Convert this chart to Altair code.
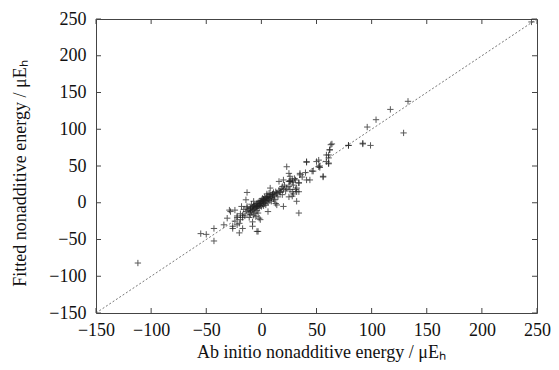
import altair as alt
import pandas as pd

# Ab initio (x) vs fitted (y) nonadditive energies
ab_initio = [
    -112, 133, 117, 104, 96, 129, 92, 99, 79, 64, 62, 59, 61, 61, 52, 53, 245,
    -55, -50, -43, -43, -34, -28, -31, -26, -26, -22, -20, -17, -19, -13, -14,
    -22, -17, -13, -10, -8, -3, -7, -4, -1, 2, -5, -2, -29, -24,
    23, 41, 47, 56, 40, 35, 26, 25, 31, 34, 32, 28, 25, 32, 34, 17, 16, 19, 14,
    13, 20, 8, 10, 5, 2, -1, -4, -7, -10, -1, -8, -4, 6, 14, 20, 25,
    63, 62, 61, 59, 61, 79, 92, 41, 50, 52, 53, 56, 46, 44, 41, 35, 37, 28, 26,
    29, 34, 26, 31, 34, 28,
    -12, -11, -10, -9, -8, -8, -7, -7, -6, -6, -5, -5, -4, -4, -3, -3, -2, -2,
    -1, -1, 0, 0, 1, 1, 2, 2, 3, 3, 4, 4, 5, 5, 6, 6, 7, 7, 8, 8, 9, 10, 10,
    11, 12, 13, 14, 16, 17, 18, 20, 21, 22, 23, 25, -14, -15, -16, -17, -13,
    -10, -9, -6, -4, -2, 0, 2, 3, 5, 7, 9, 11, -19, -22, -11, -7, 1, 4, 6, 12,
    15, 19, -3, -18, -24, -20, 28, 30, 26, 32, 29,
]
fitted = [
    -82, 138, 127, 113, 103, 95, 81, 78, 78, 80, 72, 65, 61, 53, 58, 50, 246,
    -42, -43, -35, -52, -30, -12, -21, -35, -32, -30, -41, -35, -23, 14, 4,
    -20, -17, -7, -10, -26, -39, 2, -5, -1, 4, -19, -21, -10, -10,
    49, 56, 43, 36, 41, 38, 36, 29, 31, 27, 15, 15, 8, 2, -14, 15, 29, 22, 13,
    -1, -5, 20, 11, 8, 4, 2, -1, -5, -7, -23, -32, -39, -12, -3, 31, 40,
    79, 72, 65, 56, 54, 78, 80, 55, 56, 49, 48, 35, 43, 31, 31, 40, 35, 31, 29,
    24, 27, 18, 18, 15, 9,
    -10, -14, -8, -12, -6, -10, -4, -9, -7, -3, -5, -8, -2, -6, -4, 0, -3, 2,
    -1, -4, 0, 3, -2, 2, 1, 5, 3, -1, 6, 2, 4, 7, 5, 9, 6, 3, 8, 11, 7, 12, 9,
    14, 10, 15, 12, 17, 14, 19, 18, 24, 16, 20, 22, -12, -18, -9, -20, -5,
    -16, -2, -14, -11, -7, -5, -4, 8, 12, 13, 2, 5, -15, -18, -20, -17, 6, -3,
    0, 4, 8, 11, -14, -5, -25, -28, 28, 33, 30, 20, 12,
]

diag_x = [-150, 250]
diag_y = [-150, 250]
tick_values = [-150, -100, -50, 0, 50, 100, 150, 200, 250]

W, H = 441, 294
FONT = "Liberation Serif"
TICK = 5
FS = 18

pts = pd.DataFrame({"x": ab_initio, "y": fitted})
diag = pd.DataFrame({"x": diag_x, "y": diag_y})
ticks = pd.DataFrame({"x": tick_values, "y": tick_values})

xscale = alt.Scale(domain=[-150, 250], nice=False, zero=False)
yscale = alt.Scale(domain=[-150, 250], nice=False, zero=False)

common = dict(
    values=tick_values, ticks=False, domain=False, grid=False,
    labelFont=FONT, labelFontSize=FS, labelColor="#111",
    labelOverlap=False, labelFlush=False, labelBound=False,
    titleFont=FONT, titleFontSize=FS, titleFontWeight="normal", titleColor="#111",
    titleBaseline="alphabetic", titleAnchor="middle",
)
xaxis = alt.Axis(
    labelPadding=8,
    title="Ab initio nonadditive energy / \u03bcE\u2095",
    titleX=225, titleY=44, **common,
)
yaxis = alt.Axis(
    labelPadding=10,
    title="Fitted nonadditive energy / \u03bcE\u2095",
    titleX=-71, titleY=154, titleAngle=-90, **common,
)

X = alt.X("x:Q", scale=xscale, axis=xaxis)
Y = alt.Y("y:Q", scale=yscale, axis=yaxis)

line = alt.Chart(diag).mark_line(
    color="#666", strokeWidth=0.9, strokeDash=[2, 2]
).encode(x=X, y=Y)

points = alt.Chart(pts).mark_point(
    shape="M-1,0L1,0M0,-1L0,1", size=40, filled=False,
    color="#222", strokeWidth=1, opacity=0.75,
).encode(x=X, y=Y)

tick_style = dict(color="#444", strokeWidth=1)
top_ticks = alt.Chart(ticks).mark_rule(**tick_style).encode(
    x=X, y=alt.value(0), y2=alt.value(TICK))
bot_ticks = alt.Chart(ticks).mark_rule(**tick_style).encode(
    x=X, y=alt.value(H), y2=alt.value(H - TICK))
left_ticks = alt.Chart(ticks).mark_rule(**tick_style).encode(
    y=Y, x=alt.value(0), x2=alt.value(TICK))
right_ticks = alt.Chart(ticks).mark_rule(**tick_style).encode(
    y=Y, x=alt.value(W), x2=alt.value(W - TICK))

chart = alt.layer(
    line, points, top_ticks, bot_ticks, left_ticks, right_ticks
).properties(
    width=W, height=H,
    autosize=alt.AutoSizeParams(type="none"),
    padding={"left": 88, "top": 11, "right": 14, "bottom": 49},
    background="white",
).configure_view(
    stroke="#444", strokeWidth=1
).configure_axis(
    labelFont=FONT, titleFont=FONT
)

chart.save("out.html", embed_options={"renderer": "svg", "actions": False})
